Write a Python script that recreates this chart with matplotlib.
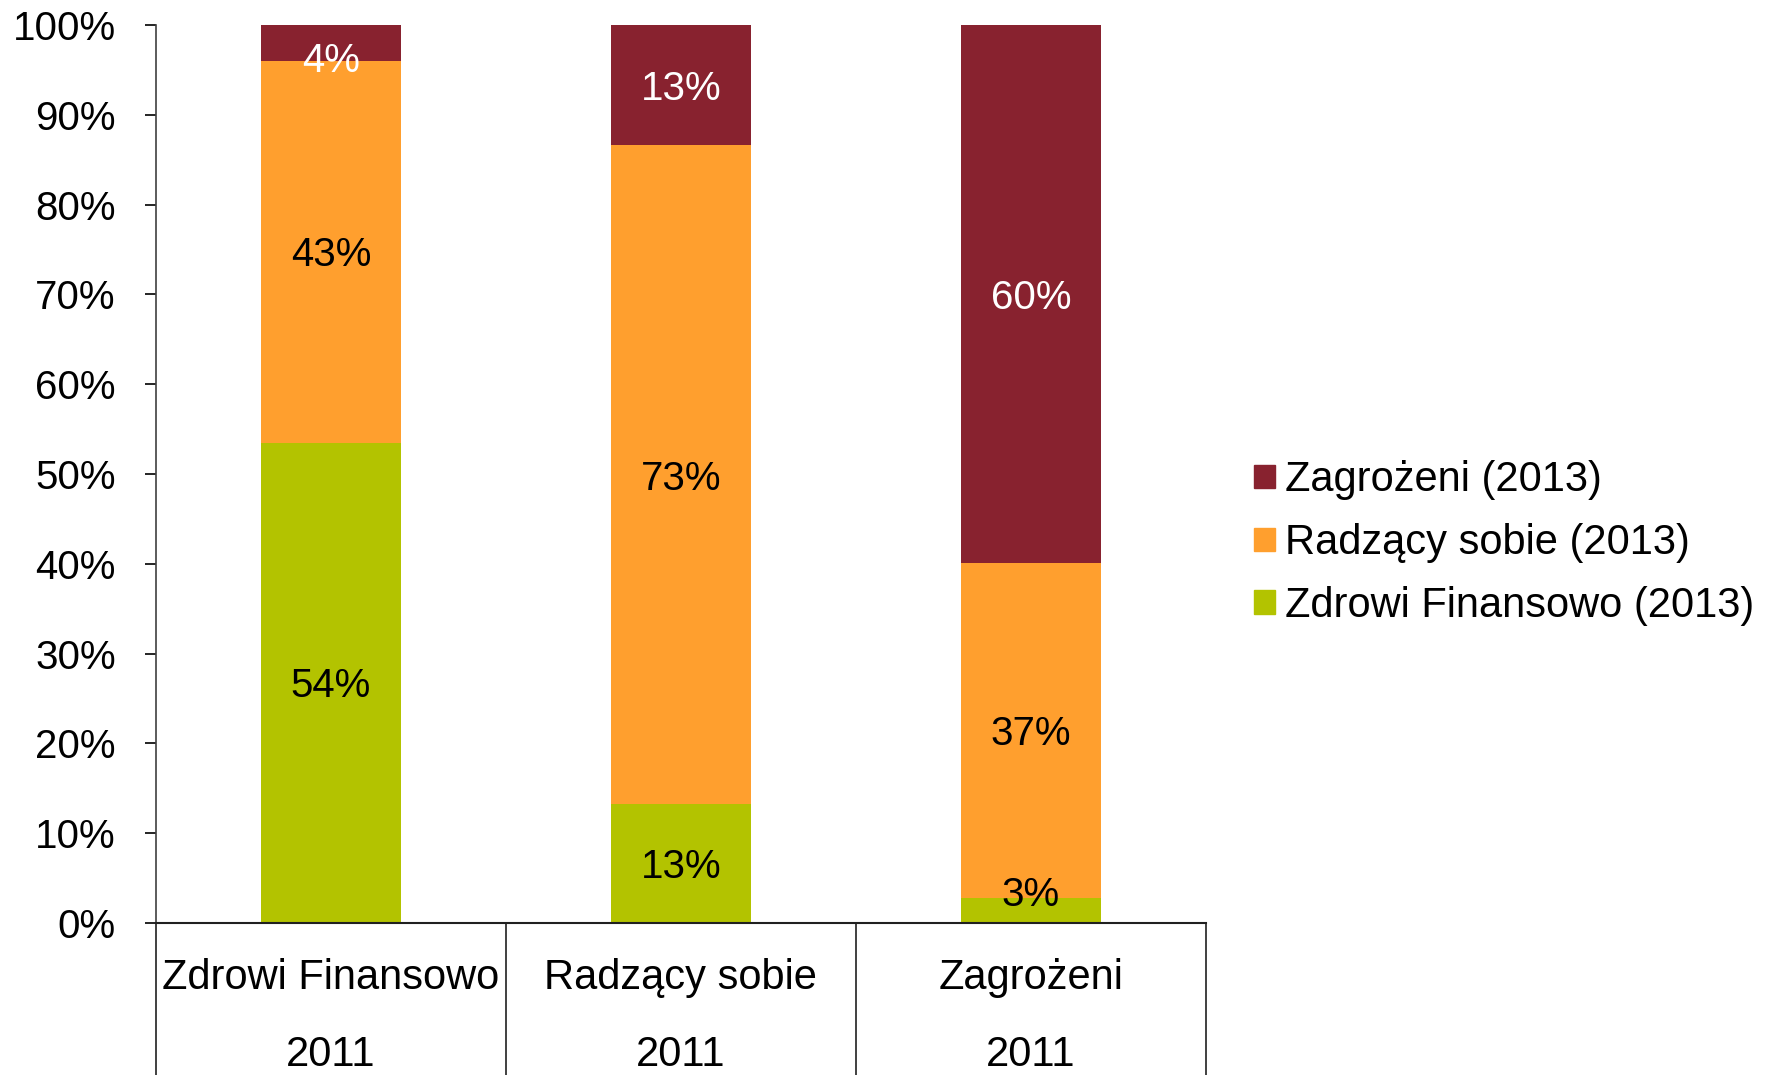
import numpy as np
import matplotlib.pyplot as plt
from matplotlib.patches import Patch

plt.rcParams['font.family'] = ['Liberation Sans', 'DejaVu Sans']

# data (shares)
groups = ['Zdrowi Finansowo', 'Radzący sobie', 'Zagrożeni']
year = '2011'
series = ['Zdrowi Finansowo (2013)', 'Radzący sobie (2013)', 'Zagrożeni (2013)']
zdrowi = [0.535, 0.132, 0.028]
radzacy = [0.425, 0.734, 0.373]
zagrozeni = [0.040, 0.134, 0.599]
labels = [['54%', '13%', '3%'], ['43%', '73%', '37%'], ['4%', '13%', '60%']]
colors = ['#B3C300', '#FF9F2E', '#88222F']
txtcols = ['black', 'black', 'white']

fig = plt.figure(figsize=(17.76, 10.75), dpi=100)
ax = fig.add_axes([0.0878, 0.1414, 0.5912, 0.8353])

x = np.arange(len(groups))
bottom = np.zeros(len(groups))
for k, vals in enumerate([zdrowi, radzacy, zagrozeni]):
    vals = np.array(vals)
    ax.bar(x, vals, width=0.4, bottom=bottom, color=colors[k], label=series[k])
    for i in range(len(x)):
        yc = bottom[i] + vals[i] / 2
        # small segments: Excel nudges the label inward
        if vals[i] < 0.05:
            yc = max(yc, 0.035) if bottom[i] == 0 else min(yc, 0.964)
        ax.text(x[i], yc - 0.004, labels[k][i], ha='center', va='center',
                fontsize=29, color=txtcols[k])
    bottom = bottom + vals

ax.set_xlim(-0.5, 2.5)
ax.set_ylim(0, 1)
ax.set_yticks(np.arange(0, 1.01, 0.1))
ax.set_yticklabels(['%d%%' % v for v in range(0, 101, 10)])
ax.tick_params(axis='y', labelsize=29, length=8, width=1.2, direction='out', pad=21)
ax.set_xticks([])
for s in ['top', 'right']:
    ax.spines[s].set_visible(False)
ax.spines['left'].set_color('#404040')
ax.spines['left'].set_linewidth(1.2)
ax.spines['bottom'].set_color('#202020')
ax.spines['bottom'].set_linewidth(1.5)

# table-like category axis
tr = ax.get_xaxis_transform()
for xv in [-0.5, 0.5, 1.5, 2.5]:
    ax.plot([xv, xv], [0, -0.2], color='#202020', lw=1.2, transform=tr, clip_on=False)
for i, g in enumerate(groups):
    ax.text(x[i], -0.061, g, ha='center', va='center', fontsize=30, transform=tr)
    ax.text(x[i], -0.1465, year, ha='center', va='center', fontsize=30, transform=tr)

handles = [Patch(color=colors[k]) for k in [2, 1, 0]]
fig.legend(handles, [series[k] for k in [2, 1, 0]], loc='center left',
           bbox_to_anchor=(0.685, 0.4947), frameon=False, fontsize=30,
           handlelength=0.5, handleheight=0.5, handletextpad=0.25, labelspacing=0.55)

fig.savefig('out.png', dpi=100)
